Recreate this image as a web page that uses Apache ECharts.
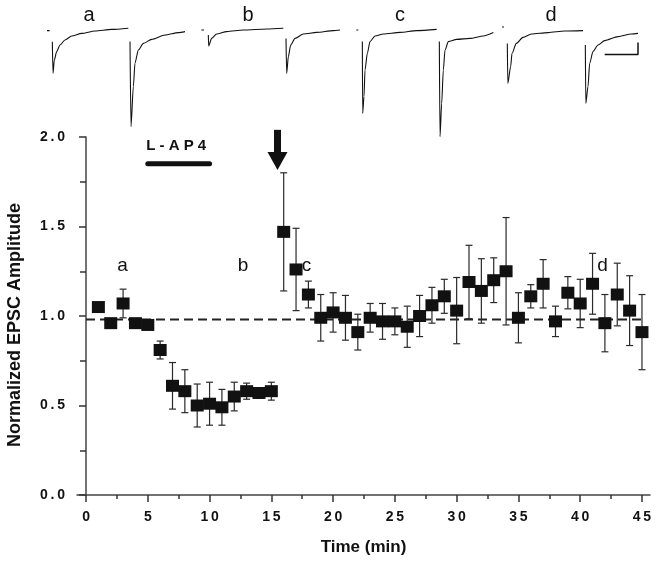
<!DOCTYPE html>
<html><head><meta charset="utf-8">
<script src="https://cdn.jsdelivr.net/npm/echarts@6/dist/echarts.min.js"></script>
<style>html,body{margin:0;padding:0;background:#fff}#c{width:658px;height:565px}</style>
</head><body><div id="c"></div>
<script>
// ---- main data (normalized EPSC amplitude vs time) ----
const timeMin = [1,2,3,4,5,6,7,8,9,10,11,12,13,14,15,16,17,18,19,20,21,22,23,24,25,26,27,28,29,30,31,32,33,34,35,36,37,38,39,40,41,42,43,44,45];
const amplitude = [1.05,0.96,1.07,0.96,0.95,0.81,0.61,0.58,0.50,0.51,0.49,0.55,0.58,0.57,0.58,1.47,1.26,1.12,0.99,1.02,0.99,0.91,0.99,0.97,0.97,0.94,1.00,1.06,1.11,1.03,1.19,1.14,1.20,1.25,0.99,1.11,1.18,0.97,1.13,1.07,1.18,0.96,1.12,1.03,0.91];
const sem = [0.02,0.02,0.08,0.02,0.02,0.05,0.13,0.12,0.12,0.12,0.10,0.08,0.045,0.03,0.05,0.33,0.23,0.075,0.13,0.11,0.125,0.10,0.08,0.10,0.075,0.115,0.115,0.10,0.095,0.185,0.205,0.18,0.125,0.30,0.14,0.065,0.135,0.085,0.09,0.135,0.17,0.16,0.175,0.195,0.21];
const baselineLevel = 0.98;
const baselineSpan = [0, 45];
const xTickValues = [0,5,10,15,20,25,30,35,40,45];
const xMinorTickValues = [2.5,7.5,12.5,17.5,22.5,27.5,32.5,37.5,42.5];
const drugName = 'L-AP4';
const drugSpan = [5, 10];
const drugBarLevel = 1.85;
const drugLabelPos = [7.3, 1.95];
const arrowTime = 15.5;
const arrowFrom = 2.04;
const arrowTo = 1.815;
const annotLetters = ['a','b','c','d'];
const annotTime = [2.95, 12.7, 17.85, 41.8];
const annotLevel = [1.28, 1.28, 1.28, 1.28];

// ---- example EPSC traces (time in ms, current in pA, baseline 0) ----
const traceLetters = ['a','b','c','d'];
const artifactA = [[3,-8],[7,-8]];
const epscA1 = [[11,-64],[12,-221],[14,-155],[17.5,-113],[22.5,-80],[30,-55],[40,-35],[55,-22],[75,-10],[100,-2],[125,4]];
const epscA2 = [[127.5,-63],[129,-488],[132.5,-288],[135,-170],[140,-105],[147.5,-72],[160,-52],[180,-30],[200,-18],[210,-13]];
const artifactB = [[2,-5],[6,-5]];
const epscB1 = [[12.5,-30],[13,-85],[17.5,-47],[25,-25],[40,-13],[65,-5],[100,0],[125,4]];
const epscB2 = [[129,-47],[130,-222],[132.5,-138],[136,-80],[142.5,-47],[155,-25],[175,-17],[200,-8],[210,-5]];
const artifactC = [[9.5,-5],[12.5,-5]];
const epscC1 = [[18.5,-63],[19,-422],[21,-338],[22.5,-205],[26,-122],[30,-63],[37.5,-35],[50,-25],[75,-17],[100,-8],[130,-2]];
const epscC2 = [[134,-63],[135,-538],[137.5,-372],[140,-205],[142.5,-105],[147.5,-63],[160,-52],[180,-47],[200,-35],[215,-18]];
const artifactD = [[6,10],[9,10]];
const epscD1 = [[14,-72],[14.7,-272],[19,-188],[21,-122],[27.5,-72],[37.5,-42],[50,-25],[75,-18],[100,-10],[127.5,-8]];
const epscD2 = [[131,-80],[131.7,-372],[135,-288],[137.5,-172],[142.5,-113],[150,-80],[160,-58],[180,-38],[200,-25],[210,-22]];
const scaleBar = [[160,-127],[210,-127],[210,-67]];

// ---- build ----
const sp = s => String(s).split('').join('\u2009');
const FONT = 'Liberation Sans, Arial, sans-serif';
const traceGridLeft = [45, 200, 350, 498];
const traceGroups = [
  [artifactA, epscA1, epscA2],
  [artifactB, epscB1, epscB2],
  [artifactC, epscC1, epscC2],
  [artifactD, epscD1, epscD2, scaleBar]
];

const grids = [{left: 77, right: 8, top: 137, bottom: 70, outerBoundsMode:'none', containLabel:false}];
const xAxes = [
  {type:'value', gridIndex:0, min:-0.73, max:45.65,
   axisLine:{onZero:true, lineStyle:{color:'#444', width:1.5}},
   axisTick:{show:true, customValues:xTickValues, length:7, lineStyle:{color:'#333', width:1.5}},
   axisLabel:{customValues:xTickValues, formatter:v=>sp(v), margin:15, color:'#111', fontFamily:FONT, fontWeight:'bold', fontSize:14},
   splitLine:{show:false},
   name:'Time (min)', nameLocation:'middle', nameGap:44,
   nameTextStyle:{color:'#111', fontFamily:FONT, fontWeight:'bold', fontSize:17}},
  {type:'value', gridIndex:0, min:-0.73, max:45.65, position:'bottom',
   axisLine:{show:false},
   axisTick:{show:true, customValues:xMinorTickValues, length:4, lineStyle:{color:'#333', width:1.5}},
   axisLabel:{show:false}, splitLine:{show:false}}
];
const yAxes = [
  {type:'value', gridIndex:0, min:0, max:2, interval:0.5,
   axisLine:{show:true, onZero:true, lineStyle:{color:'#444', width:1.5}},
   axisTick:{show:true, length:7, lineStyle:{color:'#333', width:1.5}},
   minorTick:{show:true, splitNumber:2, length:6, lineStyle:{color:'#333', width:1.5}},
   axisLabel:{formatter:v=>sp(v.toFixed(1)), margin:12, color:'#111', fontFamily:FONT, fontWeight:'bold', fontSize:14},
   splitLine:{show:false},
   name:'Normalized EPSC Amplitude', nameLocation:'middle', nameGap:53,
   nameTextStyle:{color:'#111', fontFamily:FONT, fontWeight:'bold', fontSize:18, padding:[0,18,0,0]}}
];

const series = [];
series.push({type:'line', xAxisIndex:0, yAxisIndex:0, silent:true, symbol:'none',
  data: baselineSpan.map(t=>[t, baselineLevel]),
  lineStyle:{color:'#222', width:2, type:[9,5]}, z:1});
series.push({type:'custom', xAxisIndex:0, yAxisIndex:0, silent:true, z:2,
  data: timeMin.map((t,i)=>[t, amplitude[i], sem[i]]),
  renderItem(params, api){
    const x=api.value(0), m=api.value(1), e=api.value(2);
    const top=api.coord([x,m+e]), bot=api.coord([x,m-e]);
    const w=3.5, st={stroke:'#2a2a2a', lineWidth:1.2};
    return {type:'group', children:[
      {type:'line', shape:{x1:top[0],y1:top[1],x2:bot[0],y2:bot[1]}, style:st},
      {type:'line', shape:{x1:top[0]-w,y1:top[1],x2:top[0]+w,y2:top[1]}, style:st},
      {type:'line', shape:{x1:bot[0]-w,y1:bot[1],x2:bot[0]+w,y2:bot[1]}, style:st}
    ]};
  }});
series.push({type:'scatter', xAxisIndex:0, yAxisIndex:0, silent:true, z:3,
  data: timeMin.map((t,i)=>[t, amplitude[i]]),
  symbol:'rect', symbolSize:[13,12], itemStyle:{color:'#111', opacity:1}});
series.push({type:'line', xAxisIndex:0, yAxisIndex:0, silent:true, symbol:'none',
  data: drugSpan.map(t=>[t, drugBarLevel]),
  lineStyle:{color:'#111', width:5, cap:'round'}});
series.push({type:'scatter', xAxisIndex:0, yAxisIndex:0, silent:true, symbolSize:0,
  data:[drugLabelPos], itemStyle:{opacity:1},
  label:{show:true, position:'inside', formatter:()=>drugName.split('').join(' '), color:'#111', fontFamily:FONT, fontWeight:'bold', fontSize:15}});
series.push({type:'scatter', xAxisIndex:0, yAxisIndex:0, silent:true, symbolSize:0, itemStyle:{opacity:1},
  data: annotLetters.map((l,i)=>({value:[annotTime[i], annotLevel[i]], name:l})),
  label:{show:true, position:'inside', formatter:p=>p.name, color:'#111', fontFamily:FONT, fontSize:19}});
series.push({type:'custom', xAxisIndex:0, yAxisIndex:0, silent:true, clip:false, z:4,
  data:[[arrowTime, arrowFrom, arrowTo]],
  renderItem(params, api){
    const x=api.value(0);
    const top=api.coord([x, api.value(1)]), tip=api.coord([x, api.value(2)]);
    const hh=18, hw=10, sw=3.5;
    return {type:'group', children:[
      {type:'rect', shape:{x:top[0]-sw, y:top[1], width:sw*2, height:tip[1]-hh-top[1]+1}, style:{fill:'#111'}},
      {type:'polygon', shape:{points:[[tip[0]-hw, tip[1]-hh],[tip[0]+hw, tip[1]-hh],[tip[0], tip[1]]]}, style:{fill:'#111'}}
    ]};
  }});

const graphics = [];
traceGroups.forEach((grp, gi)=>{
  grids.push({left: traceGridLeft[gi], width: 150, top: 14, height: 126, outerBoundsMode:'none', containLabel:false});
  const xi = xAxes.length, yi = yAxes.length;
  xAxes.push({type:'value', gridIndex:gi+1, min:0, max:225, show:false});
  yAxes.push({type:'value', gridIndex:gi+1, min:-555, max:75, show:false});
  grp.forEach((tr, k)=>{
    series.push({type:'line', xAxisIndex:xi, yAxisIndex:yi, silent:true, symbol:'none',
      data: tr, smooth: (k===1||k===2) ? 0.25 : false, smoothMonotone: 'x',
      lineStyle:{color:'#111', width:(k===3?1.5:1.1)}});
  });
});
const traceLabelX = [89, 248, 400, 551];
traceLetters.forEach((l,i)=>{
  graphics.push({type:'text', x:traceLabelX[i], y:15, style:{text:l, fill:'#111', font:'20px '+FONT, textAlign:'center', textVerticalAlign:'middle'}});
});

const chart = echarts.init(document.getElementById('c'), null, {renderer:'canvas'});
chart.setOption({
  animation:false, backgroundColor:'#fff',
  grid: grids, xAxis: xAxes, yAxis: yAxes, series: series, graphic: graphics
});
</script></body></html>
